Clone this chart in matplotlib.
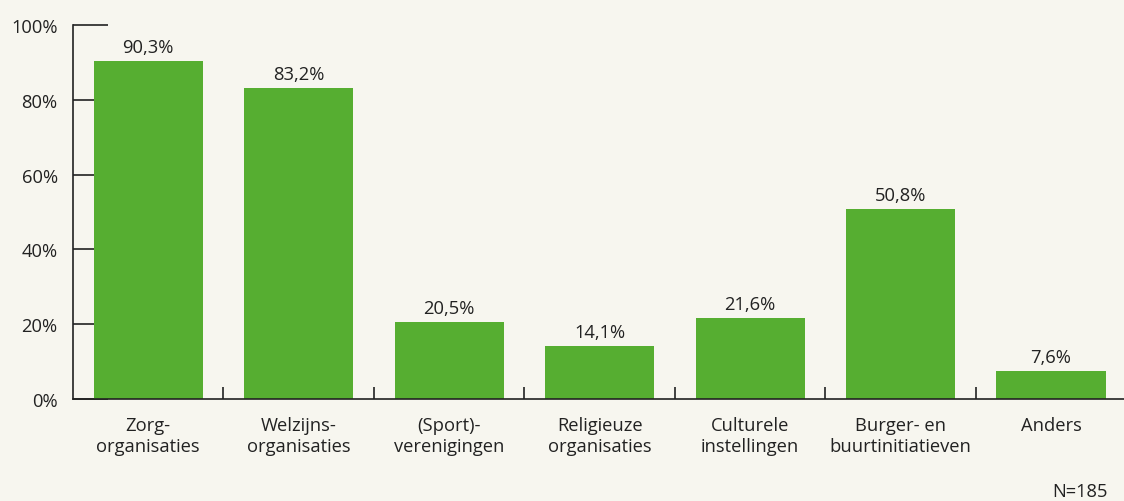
import matplotlib.pyplot as plt
import numpy as np

# Gegevens
categorieen = ["Zorg-\norganisaties", "Welzijns-\norganisaties", "(Sport)-\nverenigingen",
               "Religieuze\norganisaties", "Culturele\ninstellingen", "Burger- en\nbuurtinitiatieven",
               "Anders"]
percentages = [90.3, 83.2, 20.5, 14.1, 21.6, 50.8, 7.6]
y_ticks = [0, 20, 40, 60, 80, 100]

achtergrond = '#f7f6ef'
groen = '#56ae31'
tekst = '#222222'
fs = 13.2

plt.rcParams['font.family'] = ['Open Sans', 'DejaVu Sans']

fig = plt.figure(figsize=(11.24, 5.02), dpi=100, facecolor=achtergrond)
ax = fig.add_axes([73 / 1124, 102 / 502, 1 - 73 / 1124 + 0.002, 374 / 502])
ax.set_facecolor(achtergrond)

x = np.arange(len(categorieen))
ax.bar(x, percentages, width=0.725, color=groen, zorder=3)

for xi, v in zip(x, percentages):
    ax.text(xi, v + 1.3, f"{v:.1f}%".replace('.', ','), ha='center', va='bottom',
            fontsize=fs, color=tekst, zorder=4)

ax.set_xlim(-0.5, len(categorieen) - 0.5)
ax.set_ylim(0, 100)
ax.set_yticks(y_ticks)
ax.set_yticklabels([f"{t}%" for t in y_ticks])
ax.set_xticks(x)
ax.set_xticklabels(categorieen, linespacing=1.25)
ax.set_xticks(x[:-1] + 0.5, minor=True)

ax.tick_params(axis='y', direction='in', length=25, width=1.2, color='#222222',
               labelsize=fs, labelcolor=tekst, pad=11)
ax.tick_params(axis='x', which='major', length=0, labelsize=fs, labelcolor=tekst, pad=12)
ax.tick_params(axis='x', which='minor', direction='in', length=9, width=1.2, color='#222222')

for s in ['top', 'right']:
    ax.spines[s].set_visible(False)
for s in ['left', 'bottom']:
    ax.spines[s].set_color('#222222')
    ax.spines[s].set_linewidth(1.2)
    ax.spines[s].set_zorder(5)

fig.text(1108 / 1124, 1 - 492 / 502, "N=185", ha='right', va='center', fontsize=fs, color=tekst)

plt.savefig('out.png', facecolor=achtergrond)
